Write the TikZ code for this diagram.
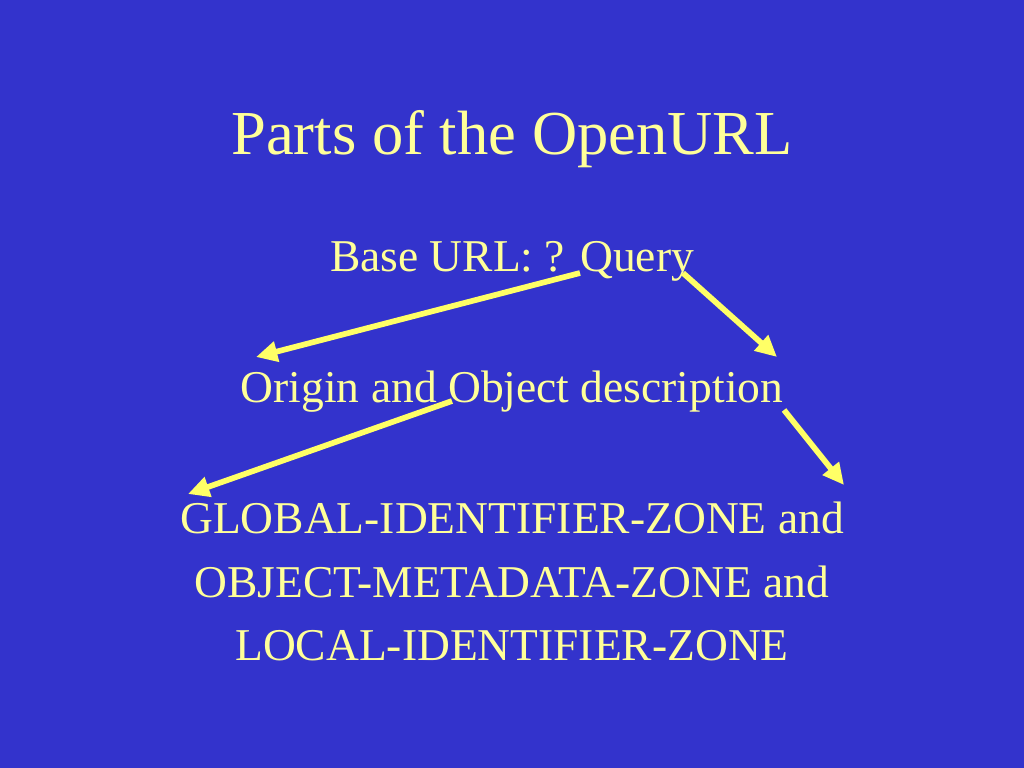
\documentclass[tikz,border=0pt]{standalone}
\usepackage{fontspec}
\setmainfont{Liberation Serif}
\usetikzlibrary{arrows.meta}
\definecolor{slideblue}{HTML}{3333CC}
\definecolor{slidetext}{HTML}{FFFF99}
\definecolor{slidearrow}{HTML}{FFFF66}
\begin{document}
\begin{tikzpicture}[x=0.703125pt,y=-0.703125pt,
  part/.style={anchor=base,inner sep=0pt,text=slidetext,font=\fontsize{32}{38}\selectfont},
  pointer/.style={draw=slidearrow,line width=4pt,-{Triangle[length=15pt,width=14pt]}}]
  \fill[slideblue] (0,0) rectangle (1024,768);
  \useasboundingbox (0,0) rectangle (1024,768);
  \node (title) [part,font=\fontsize{44}{53}\selectfont] at (512,155) {Parts of the OpenURL};
  \node (base)   [part] at (512,272) {Base URL: ? Query};
  \node (origin) [part] at (512,402) {Origin and Object description};
  \node (gzone)  [part] at (512,533) {GLOBAL-IDENTIFIER-ZONE and};
  \node (ozone)  [part] at (512,597) {OBJECT-METADATA-ZONE and};
  \node (lzone)  [part] at (512,660) {LOCAL-IDENTIFIER-ZONE};
  % arrow ends
  \coordinate (b-l) at (580,273);  \coordinate (o-l) at (256,357);
  \coordinate (b-r) at (683,273);  \coordinate (o-r) at (777,357);
  \coordinate (o-s) at (452,401);  \coordinate (g-l) at (188,494);
  \coordinate (o-e) at (784,410);  \coordinate (g-r) at (844,485);
  \draw[pointer] (b-l) -- (o-l);
  \draw[pointer] (b-r) -- (o-r);
  \draw[pointer] (o-s) -- (g-l);
  \draw[pointer] (o-e) -- (g-r);
\end{tikzpicture}
\end{document}
